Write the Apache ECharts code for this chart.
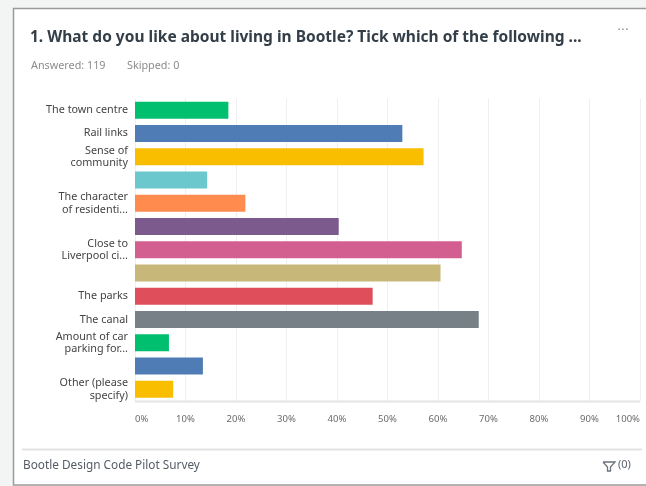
<!DOCTYPE html>
<html>
<head>
<meta charset="utf-8">
<script src="https://cdn.jsdelivr.net/npm/echarts@6/dist/echarts.min.js"></script>
<style>
  html, body { margin: 0; padding: 0; background: #f3f4f4; }
  #chart { width: 646px; height: 486px; }
</style>
</head>
<body>
<div id="chart"></div>
<script>
// ---- data ----
const categories = [
  'The town centre', 'Rail links', 'Sense of community', 'Option 4',
  'The character of residenti...', 'Option 6', 'Close to Liverpool ci...', 'Option 8',
  'The parks', 'The canal', 'Amount of car parking for...', 'Option 12', 'Other (please specify)'
];
const shownLabels = [
  'The town centre', 'Rail links', 'Sense of\ncommunity', '',
  'The character\nof residenti...', '', 'Close to\nLiverpool ci...', '',
  'The parks', 'The canal', 'Amount of car\nparking for...', '', 'Other (please\nspecify)'
];
const percents = [18.49, 52.94, 57.14, 14.29, 21.85, 40.34, 64.71, 60.50, 47.06, 68.07, 6.72, 13.45, 7.56];
const barColors = ['#00bf6f', '#507cb6', '#f9be00', '#6bc8cd', '#ff8b4f', '#7d5a8d', '#d25f90',
                   '#c7b879', '#de4f5b', '#768086', '#00bf6f', '#507cb6', '#f9be00'];
const xTicks = [0, 10, 20, 30, 40, 50, 60, 70, 80, 90, 100];
const titleText = '1. What do you like about living in Bootle? Tick which of the following ...';
const answeredText = 'Answered: 119';
const skippedText = 'Skipped: 0';
const footerText = 'Bootle Design Code Pilot Survey';

const FONT = '"Noto Sans", "Open Sans", sans-serif';
const chart = echarts.init(document.getElementById('chart'), null, { renderer: 'canvas' });

chart.setOption({
  backgroundColor: '#f3f4f4',
  animation: false,
  grid: { left: 135, right: 6, top: 98.5, bottom: 85 },
  xAxis: {
    type: 'value',
    min: xTicks[0],
    max: xTicks[xTicks.length - 1],
    interval: xTicks[1] - xTicks[0],
    axisLine: { show: false },
    axisTick: { show: false },
    splitLine: { show: true, lineStyle: { color: '#efefef', width: 1 } },
    axisLabel: {
      formatter: '{value}%', color: '#6b6b6b', fontSize: 9.5, fontFamily: FONT, margin: 13,
      alignMinLabel: 'left', alignMaxLabel: 'right'
    }
  },
  yAxis: {
    type: 'category',
    inverse: true,
    data: categories,
    axisLine: { show: false },
    axisTick: { show: false },
    axisLabel: {
      interval: 0,
      color: '#444',
      fontSize: 10.8,
      lineHeight: 12.5,
      fontFamily: FONT,
      margin: 7,
      formatter: function (v, i) { return shownLabels[i]; }
    }
  },
  graphic: [
    { type: 'rect', z: -10, silent: true,
      shape: { x: 13.5, y: 8.5, width: 700, height: 476.5 },
      style: { fill: '#ffffff', stroke: '#9a9a9a', lineWidth: 1.5 } },
    { type: 'line', z: 5, silent: true,
      shape: { x1: 135, y1: 401.5, x2: 640, y2: 401.5 },
      style: { stroke: '#e4e4e4', lineWidth: 2 } },
    { type: 'text', z: 5, left: 30, top: 30,
      style: { text: titleText, fill: '#333e48', font: 'bold 15.5px ' + FONT } },
    { type: 'text', z: 5, left: 31, top: 60,
      style: { text: answeredText, fill: '#8c8c8c', font: '10.8px ' + FONT } },
    { type: 'text', z: 5, left: 127, top: 60,
      style: { text: skippedText, fill: '#8c8c8c', font: '10.8px ' + FONT } },
    { type: 'text', z: 5, left: 618, top: 26,
      style: { text: '• • •', fill: '#8a9aa8', font: 'bold 6px ' + FONT } },
    { type: 'line', z: 5, silent: true,
      shape: { x1: 22, y1: 449.5, x2: 642, y2: 449.5 },
      style: { stroke: '#e3e3e3', lineWidth: 2 } },
    { type: 'text', z: 5, left: 23, top: 460,
      style: { text: footerText, fill: '#555c66', font: '11.8px ' + FONT } },
    { type: 'polyline', z: 5, silent: true,
      shape: { points: [[603, 462], [615, 462], [610.5, 467], [610.5, 471], [607.5, 471], [607.5, 467], [603, 462]] },
      style: { stroke: '#6b737c', fill: 'none', lineWidth: 1.3 } },
    { type: 'text', z: 5, left: 618, top: 459.5,
      style: { text: '(0)', fill: '#5a626c', font: '11px ' + FONT } }
  ],
  series: [{
    type: 'bar',
    barCategoryGap: '27%',
    data: percents.map((v, i) => ({ value: v, itemStyle: { color: barColors[i] } })),
    label: { show: false }
  }]
});
</script>
</body>
</html>
